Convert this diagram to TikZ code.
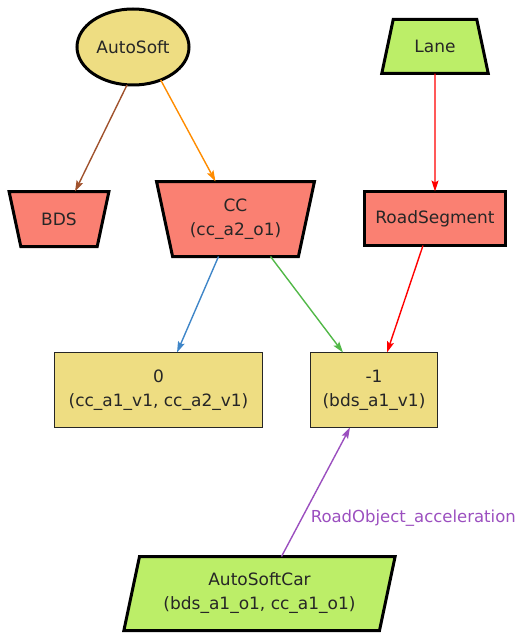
\documentclass[tikz,border=0pt]{standalone}
\usepackage{fontspec}
\setmainfont{DejaVu Sans}
\usetikzlibrary{shapes.geometric,arrows.meta}

\definecolor{goldfill}{HTML}{EEDD82}
\definecolor{salmonfill}{HTML}{FA8072}
\definecolor{limefill}{HTML}{BCEE68}
\definecolor{siennaedge}{HTML}{A0522D}
\definecolor{orangeedge}{HTML}{FF8C00}
\definecolor{blueedge}{HTML}{3F86C8}
\definecolor{greenedge}{HTML}{52B848}
\definecolor{purpleedge}{HTML}{9B4FBF}

\tikzset{
  lbl/.style={font=\fontsize{17}{24}\selectfont, align=center, text=black!85},
  thickbox/.style={lbl, draw=black, line width=3pt, inner sep=0pt, outer sep=0pt},
  thinbox/.style={lbl, draw=black!85, line width=1.5pt, inner sep=0pt, outer sep=0pt, fill=goldfill},
  trap/.style={thickbox, trapezium, trapezium stretches=true},
  edge/.style={line width=1.4pt, -{Stealth[length=11pt,width=7pt,inset=2pt]}},
  elabel/.style={font=\fontsize{16.5}{20}\selectfont, text=purpleedge, inner sep=0pt}
}

\begin{document}
\begin{tikzpicture}[x=1pt,y=-1pt]
\useasboundingbox (0,0) rectangle (520,639);

% top row
\node[thickbox, ellipse, fill=goldfill, minimum width=112pt, minimum height=76pt] (autosoft) at (133,47) {AutoSoft};
\node[trap, fill=limefill, trapezium left angle=66, trapezium right angle=66,
      minimum width=107pt, minimum height=54pt] (lane) at (435,46.5) {Lane};

% middle row
\node[trap, fill=salmonfill, shape border rotate=180, trapezium left angle=67, trapezium right angle=67,
      minimum width=100pt, minimum height=55pt] (bds) at (59,219) {BDS};
\node[trap, fill=salmonfill, shape border rotate=180, trapezium left angle=74, trapezium right angle=74,
      minimum width=158pt, minimum height=75pt] (cc) at (235.5,219) {CC\\(cc\_a2\_o1)};
\node[thickbox, fill=salmonfill, minimum width=141pt, minimum height=54pt] (roadseg) at (435,218.5) {RoadSegment};

% value boxes
\node[thinbox, minimum width=208pt, minimum height=75pt] (val0) at (158.5,390) {0\\(cc\_a1\_v1, cc\_a2\_v1)};
\node[thinbox, minimum width=127pt, minimum height=75pt] (valm1) at (374,390) {-1\\(bds\_a1\_v1)};

% bottom
\node[trap, fill=limefill, trapezium left angle=73, trapezium right angle=107,
      minimum width=272pt, minimum height=74pt] (car) at (259.5,593.5) {AutoSoftCar\\(bds\_a1\_o1, cc\_a1\_o1)};

% connectors
\draw[edge, siennaedge] ([xshift=-6pt]autosoft.south) -- ([xshift=16pt]bds.north);
\draw[edge, orangeedge] (autosoft.310) -- ([xshift=-20pt]cc.north);
\draw[edge, red] (lane.south) -- (roadseg.north);
\draw[edge, blueedge] ([xshift=-17pt]cc.south) -- ([xshift=18.5pt]val0.north);
\draw[edge, greenedge] ([xshift=35pt]cc.south) -- ([xshift=-31pt]valm1.north);
\draw[edge, red] ([xshift=-12pt]roadseg.south) -- ([xshift=13pt]valm1.north);
\draw[edge, purpleedge] ([xshift=22pt]car.north) -- node[elabel, pos=0.3, right=8pt] {RoadObject\_acceleration} ([xshift=-24pt]valm1.south);
\end{tikzpicture}
\end{document}
